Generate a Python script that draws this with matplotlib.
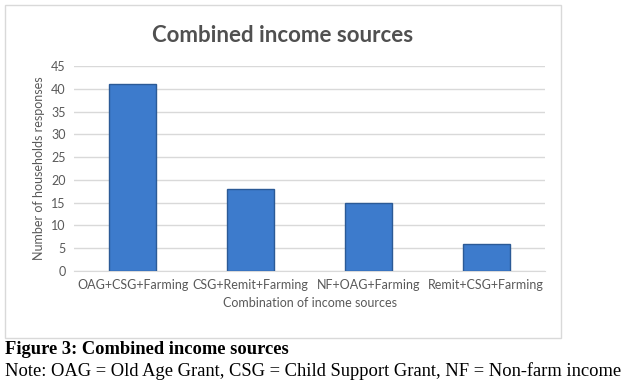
import matplotlib.pyplot as plt
from matplotlib.patches import Rectangle

# data
categories = ["OAG+CSG+Farming", "CSG+Remit+Farming", "NF+OAG+Farming", "Remit+CSG+Farming"]
responses = [41, 18, 15, 6]
yticks = [0, 5, 10, 15, 20, 25, 30, 35, 40, 45]

plt.rcParams['font.family'] = ['Lato', 'DejaVu Sans']
grey = '#595959'

fig = plt.figure(figsize=(6.25, 3.88), dpi=100)
fig.patch.set_facecolor('white')

# chart frame (like the Excel chart area)
fig.add_artist(Rectangle((5 / 625, 1 - 338 / 388), 556 / 625, 333 / 388,
                         transform=fig.transFigure, fill=False,
                         edgecolor='#d9d9d9', linewidth=1))

ax = fig.add_axes([74 / 625, 1 - 271 / 388, 471 / 625, 205 / 388])
ax.bar(range(len(categories)), responses, width=0.4, color='#3d7bcc',
       edgecolor='#2b5a96', linewidth=1, zorder=3)
ax.set_xlim(-0.5, len(categories) - 0.5)
ax.set_ylim(0, 45)
ax.set_yticks(yticks)
ax.set_xticks(range(len(categories)))
ax.set_xticklabels(categories)
ax.yaxis.grid(True, color='#d9d9d9', linewidth=1, zorder=0)
for s in ['top', 'right', 'left']:
    ax.spines[s].set_visible(False)
ax.spines['bottom'].set_color('#d9d9d9')
ax.tick_params(axis='both', length=0, labelsize=9, colors=grey, pad=6)
ax.set_ylabel('Number of households responses', fontsize=9, color=grey)
ax.set_xlabel('Combination of income sources', fontsize=9, color=grey, labelpad=4)

fig.text(283 / 625, 1 - 35 / 388, 'Combined income sources', ha='center', va='center',
         fontsize=16, fontweight='bold', color='#505050')

fig.text(5 / 625, 1 - 350 / 388, 'Figure 3: Combined income sources', ha='left', va='center',
         fontsize=13.3, fontweight='bold', family='Liberation Serif', color='black')
fig.text(5 / 625, 1 - 371 / 388,
         'Note: OAG = Old Age Grant, CSG = Child Support Grant, NF = Non-farm income',
         ha='left', va='center', fontsize=13.3, family='Liberation Serif', color='black')

fig.savefig('out.png', dpi=100)
